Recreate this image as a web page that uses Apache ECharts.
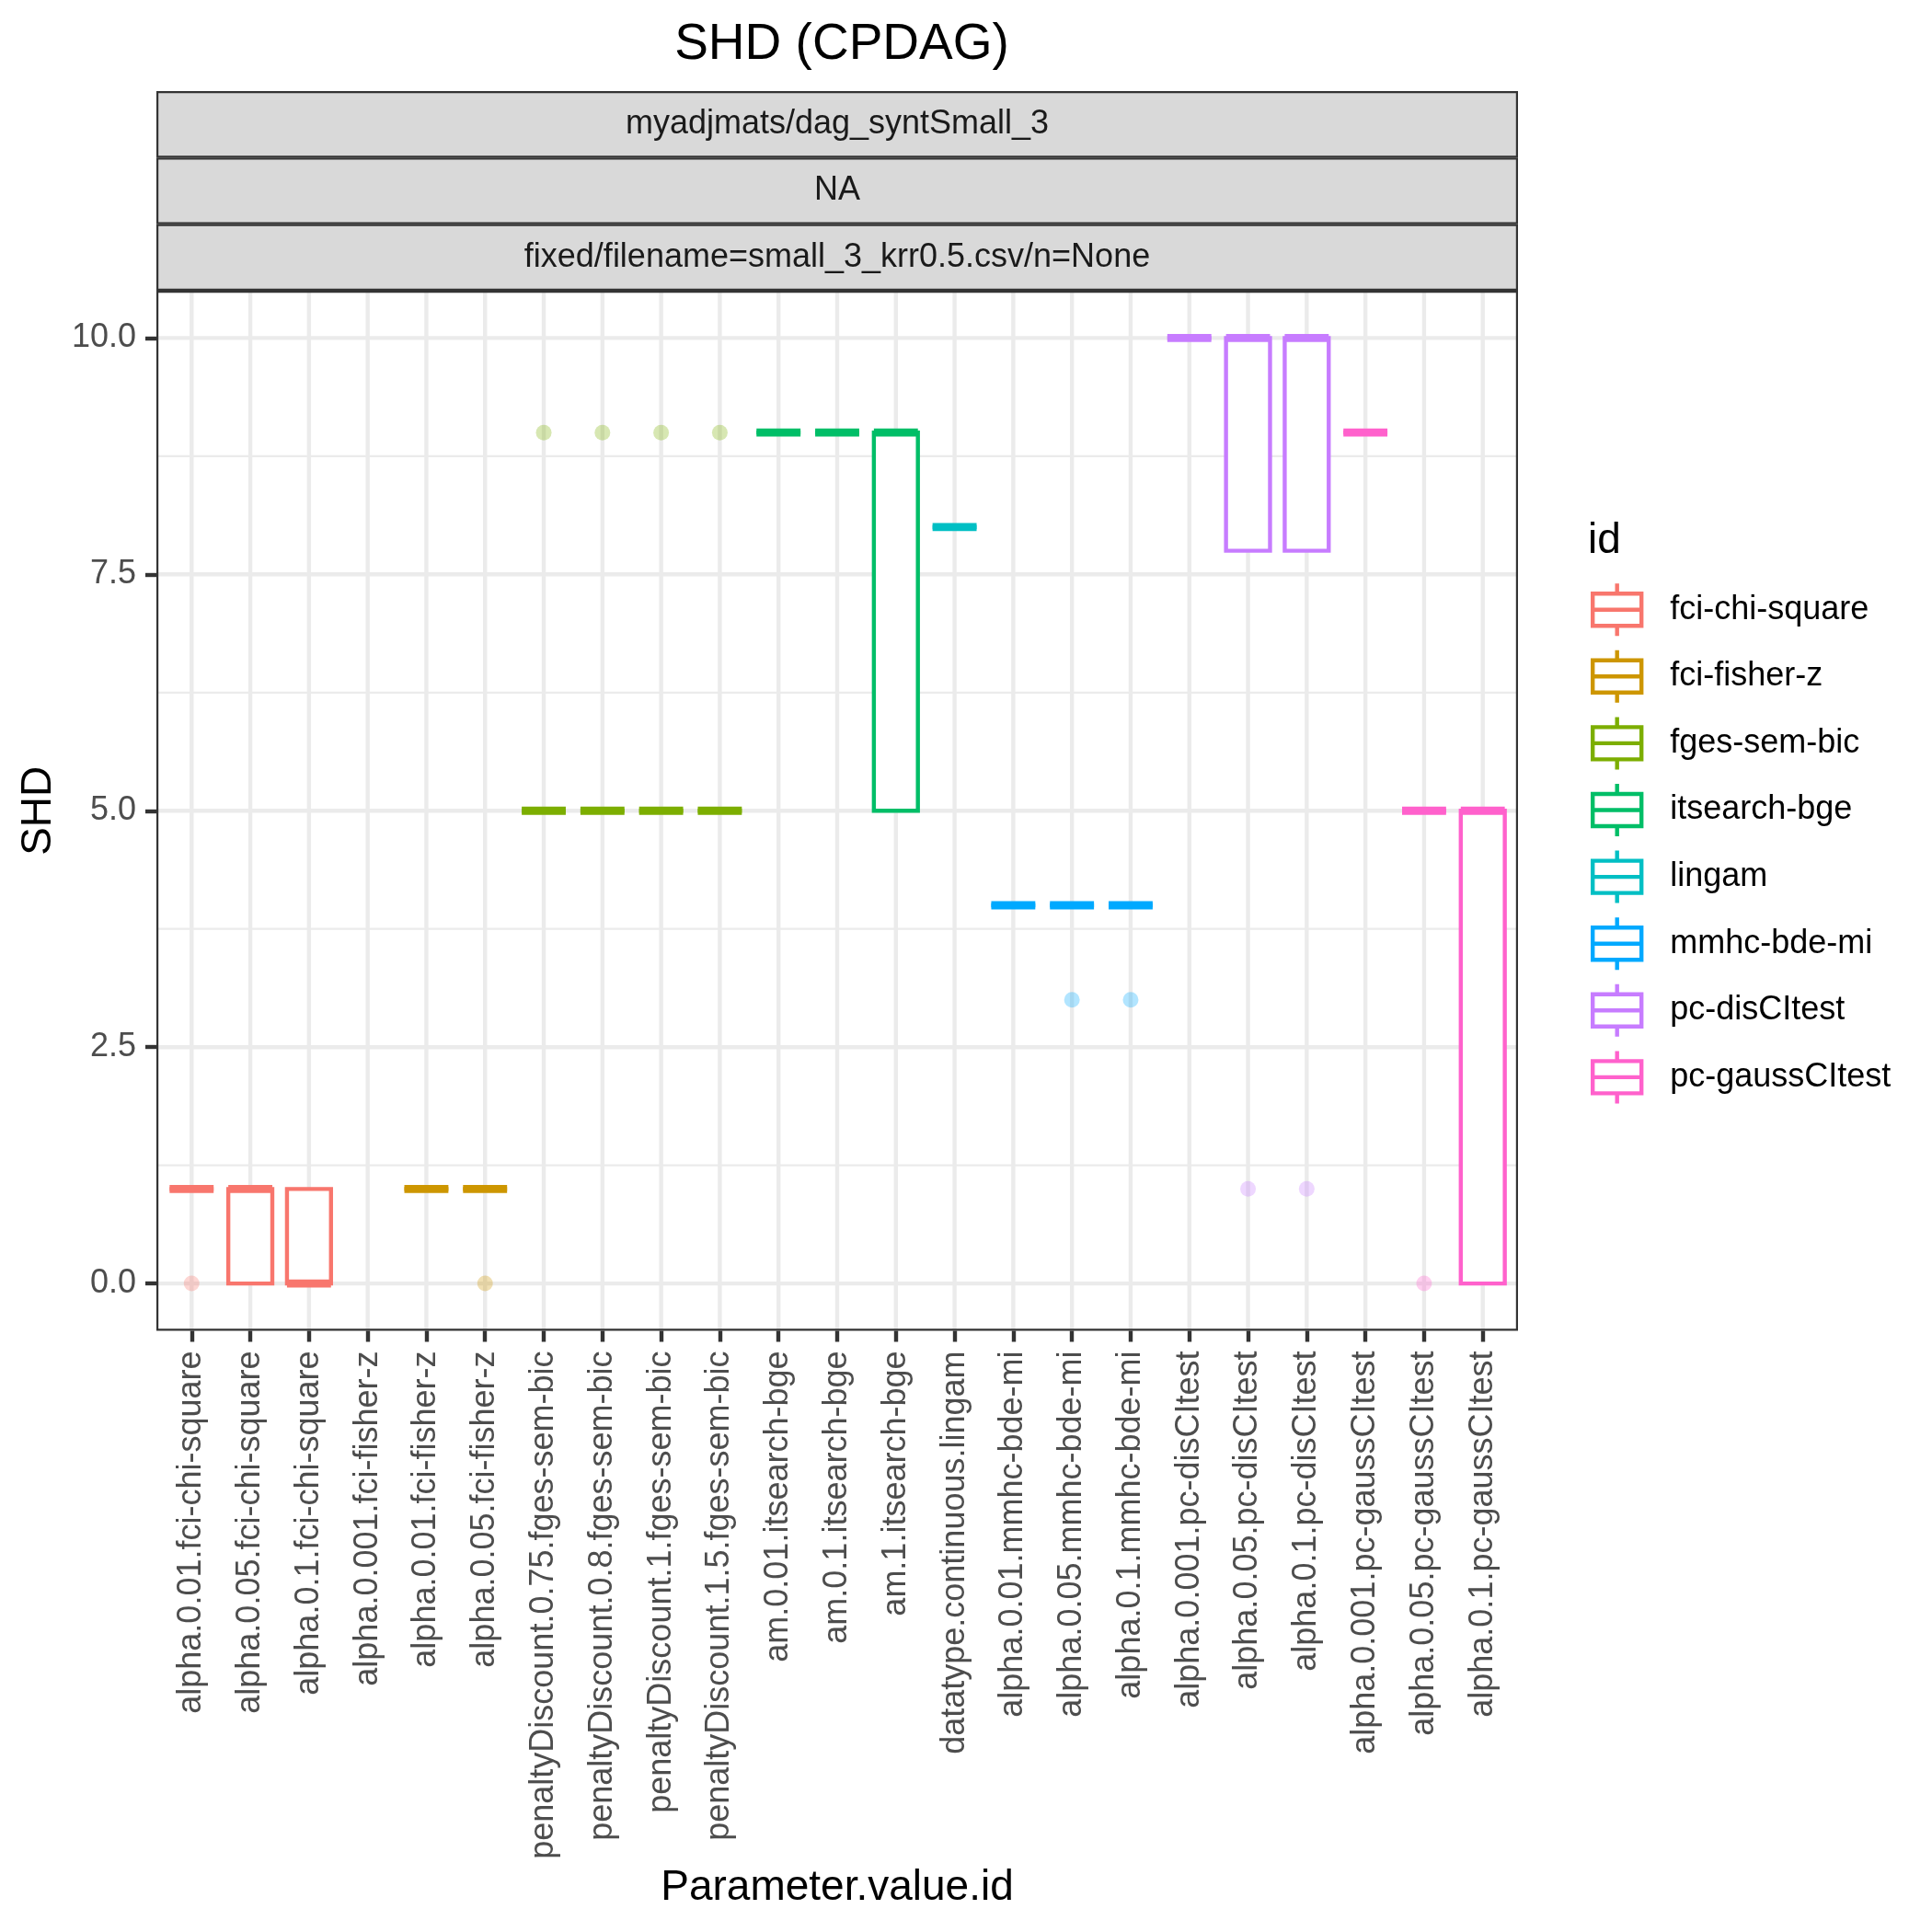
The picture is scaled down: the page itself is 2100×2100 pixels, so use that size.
<!DOCTYPE html>
<html>
<head>
<meta charset="utf-8">
<script src="https://cdn.jsdelivr.net/npm/echarts@6/dist/echarts.min.js"></script>
<style>
  html, body { margin: 0; padding: 0; background: #ffffff; }
  #chart { width: 2100px; height: 2100px; }
</style>
</head>
<body>
<div id="chart"></div>
<script>
// ---------------- data ----------------
const chartTitle = 'SHD (CPDAG)';
const stripLabels = ['myadjmats/dag_syntSmall_3', 'NA', 'fixed/filename=small_3_krr0.5.csv/n=None'];
const xAxisTitle = 'Parameter.value.id';
const yAxisTitle = 'SHD';
const legendTitle = 'id';

const categories = [
  'alpha.0.01.fci-chi-square', 'alpha.0.05.fci-chi-square', 'alpha.0.1.fci-chi-square',
  'alpha.0.001.fci-fisher-z', 'alpha.0.01.fci-fisher-z', 'alpha.0.05.fci-fisher-z',
  'penaltyDiscount.0.75.fges-sem-bic', 'penaltyDiscount.0.8.fges-sem-bic',
  'penaltyDiscount.1.fges-sem-bic', 'penaltyDiscount.1.5.fges-sem-bic',
  'am.0.01.itsearch-bge', 'am.0.1.itsearch-bge', 'am.1.itsearch-bge',
  'datatype.continuous.lingam',
  'alpha.0.01.mmhc-bde-mi', 'alpha.0.05.mmhc-bde-mi', 'alpha.0.1.mmhc-bde-mi',
  'alpha.0.001.pc-disCItest', 'alpha.0.05.pc-disCItest', 'alpha.0.1.pc-disCItest',
  'alpha.0.001.pc-gaussCItest', 'alpha.0.05.pc-gaussCItest', 'alpha.0.1.pc-gaussCItest'
];
const groupIds = ['fci-chi-square', 'fci-fisher-z', 'fges-sem-bic', 'itsearch-bge',
  'lingam', 'mmhc-bde-mi', 'pc-disCItest', 'pc-gaussCItest'];
const groupColors = ['#F8766D', '#CD9600', '#7CAE00', '#00BE67', '#00BFC4', '#00A9FF', '#C77CFF', '#FF61CC'];

// group index of each category
const categoryGroup = [0, 0, 0, 1, 1, 1, 2, 2, 2, 2, 3, 3, 3, 4, 5, 5, 5, 6, 6, 6, 7, 7, 7];
// box statistics per category (null = no data)
const whiskerLow  = [1, 0, 0, null, 1, 1, 5, 5, 5, 5, 9, 9, 5, 8, 4, 4, 4, 10, 7.75, 7.75, 9, 5, 0];
const quartile1   = [1, 0, 0, null, 1, 1, 5, 5, 5, 5, 9, 9, 5, 8, 4, 4, 4, 10, 7.75, 7.75, 9, 5, 0];
const medians     = [1, 1, 0, null, 1, 1, 5, 5, 5, 5, 9, 9, 9, 8, 4, 4, 4, 10, 10, 10, 9, 5, 5];
const quartile3   = [1, 1, 1, null, 1, 1, 5, 5, 5, 5, 9, 9, 9, 8, 4, 4, 4, 10, 10, 10, 9, 5, 5];
const whiskerHigh = [1, 1, 1, null, 1, 1, 5, 5, 5, 5, 9, 9, 9, 8, 4, 4, 4, 10, 10, 10, 9, 5, 5];
// outliers: [category index, value]
const outlierPoints = [[0, 0], [5, 0], [6, 9], [7, 9], [8, 9], [9, 9], [15, 3], [16, 3], [18, 1], [19, 1], [21, 0]];

const yTicks = [0, 2.5, 5, 7.5, 10];
const yMinorTicks = [1.25, 3.75, 6.25, 8.75];

// ---------------- layout / style ----------------
const FONT = 'Liberation Sans';
const BOX_WIDTH = 0.75;
const LW = 4.4;
const PANEL = { left: 170, right: 1650, top: 316, bottom: 1446.5 };

const chart = echarts.init(document.getElementById('chart'), null, { renderer: 'canvas' });

// gridline items: [kind, value]; 0 = vertical major, 1 = horizontal major, 2 = horizontal minor
const gridItems = [];
categories.forEach((c, i) => gridItems.push([0, i]));
yTicks.forEach(v => gridItems.push([1, v]));
yMinorTicks.forEach(v => gridItems.push([2, v]));

function renderGrid(params, api) {
  const cs = params.coordSys;
  const kind = api.value(0), v = api.value(1);
  if (kind === 0) {
    const x = api.coord([v, 0])[0];
    return { type: 'line', silent: true, shape: { x1: x, y1: cs.y + 1.1, x2: x, y2: cs.y + cs.height - 1.1 },
      style: { stroke: '#EBEBEB', lineWidth: LW } };
  }
  const y = api.coord([0, v])[1];
  return { type: 'line', silent: true, shape: { x1: cs.x + 1.1, y1: y, x2: cs.x + cs.width - 1.1, y2: y },
    style: { stroke: '#EBEBEB', lineWidth: kind === 1 ? LW : LW / 2 } };
}

function renderBox(params, api) {
  const x = api.value(0);
  const pLow = api.coord([x, api.value(1)]);
  const pQ1 = api.coord([x, api.value(2)]);
  const pMed = api.coord([x, api.value(3)]);
  const pQ3 = api.coord([x, api.value(4)]);
  const pHigh = api.coord([x, api.value(5)]);
  const half = api.size([BOX_WIDTH, 0])[0] / 2;
  const color = api.visual('color');
  return {
    type: 'group',
    children: [
      { type: 'line', shape: { x1: pQ3[0], y1: pQ3[1], x2: pHigh[0], y2: pHigh[1] }, style: { stroke: color, lineWidth: LW } },
      { type: 'line', shape: { x1: pLow[0], y1: pLow[1], x2: pQ1[0], y2: pQ1[1] }, style: { stroke: color, lineWidth: LW } },
      { type: 'rect', shape: { x: pQ1[0] - half, y: pQ3[1], width: 2 * half, height: pQ1[1] - pQ3[1] },
        style: { fill: '#FFFFFF', stroke: color, lineWidth: LW } },
      { type: 'line', shape: { x1: pMed[0] - half, y1: pMed[1], x2: pMed[0] + half, y2: pMed[1] },
        style: { stroke: color, lineWidth: LW * 2, lineCap: 'butt' } }
    ]
  };
}

const series = [{
  name: '__grid', type: 'custom', silent: true, z: 0,
  renderItem: renderGrid, data: gridItems, animation: false
}];

groupIds.forEach((g, k) => {
  const data = [];
  categories.forEach((c, i) => {
    if (categoryGroup[i] === k && medians[i] !== null) {
      data.push([i, whiskerLow[i], quartile1[i], medians[i], quartile3[i], whiskerHigh[i]]);
    }
  });
  series.push({
    name: g, type: 'custom', z: 2, animation: false,
    itemStyle: { color: groupColors[k], borderColor: groupColors[k] },
    encode: { x: 0, y: [1, 2, 3, 4, 5] },
    renderItem: renderBox, data: data
  });
});
groupIds.forEach((g, k) => {
  const data = outlierPoints.filter(p => categoryGroup[p[0]] === k);
  series.push({
    name: g, type: 'scatter', z: 3, animation: false,
    symbol: 'circle', symbolSize: 17,
    itemStyle: { color: groupColors[k], opacity: 0.3 },
    data: data
  });
});

const stripH = (PANEL.top - 99) / 3;
const graphics = [];
stripLabels.forEach((s, i) => {
  const y0 = 99 + i * stripH;
  graphics.push({
    type: 'rect', z: 10,
    shape: { x: PANEL.left + 1.1, y: y0 + 1.1, width: PANEL.right - PANEL.left - 2.2, height: stripH - 2.2 },
    style: { fill: '#D9D9D9', stroke: '#333333', lineWidth: 2.2 }
  });
  graphics.push({
    type: 'text', z: 11,
    x: (PANEL.left + PANEL.right) / 2, y: y0 + stripH / 2,
    style: { text: s, fill: '#1A1A1A', font: '36px "' + FONT + '"', align: 'center', verticalAlign: 'middle' }
  });
});
graphics.push({
  type: 'rect', z: 100, silent: true,
  shape: { x: PANEL.left + 1.1, y: PANEL.top + 1.1, width: PANEL.right - PANEL.left - 2.2, height: PANEL.bottom - PANEL.top - 2.2 },
  style: { fill: 'none', stroke: '#333333', lineWidth: 2.2 }
});

const option = {
  backgroundColor: '#FFFFFF',
  animation: false,
  textStyle: { fontFamily: FONT },
  title: [
    { text: chartTitle, left: 910, top: 16, textAlign: 'center',
      textStyle: { fontSize: 55, fontWeight: 'normal', color: '#000000', fontFamily: FONT } },
    { text: legendTitle, left: 1721, top: 560,
      textStyle: { fontSize: 46, fontWeight: 'normal', color: '#000000', fontFamily: FONT } }
  ],
  legend: {
    data: groupIds,
    orient: 'vertical',
    left: 1729, top: 632,
    padding: 0,
    itemWidth: 53, itemHeight: 57, itemGap: 11.2,
    selectedMode: false,
    icon: 'path://M0,11L53,11L53,46L0,46Z M0,28.5L53,28.5 M26.5,0L26.5,11 M26.5,46L26.5,57',
    itemStyle: { color: '#FFFFFF', borderColor: 'inherit', borderWidth: LW },
    textStyle: { fontSize: 36, color: '#000000', fontFamily: FONT, padding: [0, 0, 0, 26] }
  },
  grid: {
    left: PANEL.left, right: 2100 - PANEL.right, top: PANEL.top, bottom: 2100 - PANEL.bottom,
    show: true, backgroundColor: '#FFFFFF', borderWidth: 0
  },
  xAxis: {
    type: 'value', min: -0.6, max: categories.length - 1 + 0.6,
    name: xAxisTitle, nameLocation: 'middle', nameGap: 583,
    nameTextStyle: { fontSize: 46, color: '#000000', fontFamily: FONT },
    axisLine: { show: false, onZero: false },
    splitLine: { show: false },
    axisTick: { show: true, length: 12, customValues: categories.map((c, i) => i),
      lineStyle: { color: '#333333', width: LW } },
    axisLabel: { show: true, rotate: 90, margin: 22, fontSize: 36, color: '#4D4D4D', fontFamily: FONT,
      customValues: categories.map((c, i) => i),
      formatter: v => categories[Math.round(v)] || '' }
  },
  yAxis: {
    type: 'value', min: -0.5, max: 10.5,
    name: yAxisTitle, nameLocation: 'middle', nameGap: 105, nameRotate: 90,
    nameTextStyle: { fontSize: 46, color: '#000000', fontFamily: FONT },
    axisLine: { show: false, onZero: false },
    splitLine: { show: false },
    axisTick: { show: true, length: 12, customValues: yTicks, lineStyle: { color: '#333333', width: LW } },
    axisLabel: { show: true, margin: 22, fontSize: 36, color: '#4D4D4D', fontFamily: FONT,
      customValues: yTicks, formatter: v => Number(v).toFixed(1) }
  },
  graphic: graphics,
  series: series
};
chart.setOption(option);
</script>
</body>
</html>
